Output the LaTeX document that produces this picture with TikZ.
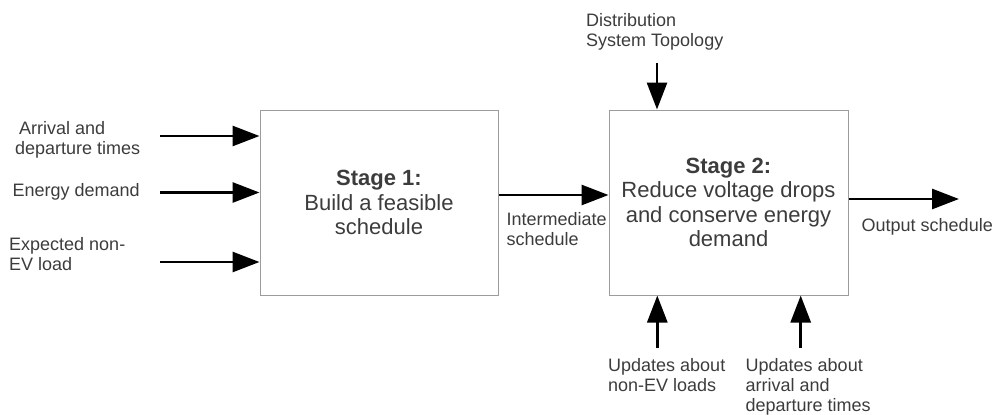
\documentclass[tikz,border=0pt]{standalone}
\usepackage{fontspec}
\setmainfont{Liberation Sans}
\usetikzlibrary{arrows.meta}
\definecolor{txt}{HTML}{3C3C3C}
\definecolor{frame}{HTML}{9C9C9C}
\begin{document}
\begin{tikzpicture}[x=1pt,y=-1pt,
  lbl/.style={font=\fontsize{18}{20}\selectfont, text=txt, align=left,
    inner sep=0pt, anchor=base west},
  stagebox/.style={draw=frame, line width=1pt, minimum height=185pt,
    inner sep=0pt, align=center, text=txt,
    font=\fontsize{22}{24.5}\selectfont},
  flow/.style={line width=2.8pt, -{Triangle[length=27pt,width=20pt]}}]
\useasboundingbox (0,0) rectangle (996,415);

% the two processing stages
\node[stagebox, minimum width=238pt] (s1) at (379,202.5)
  {\textbf{Stage 1:}\\Build a feasible\\schedule};
\node[stagebox, minimum width=239pt] (s2) at (728.5,202.5)
  {\textbf{Stage 2:}\\Reduce voltage drops\\and conserve energy\\demand};

% labels (base anchor sits on the last line)
\node[lbl] (arr) at (15,154) {\hspace*{4pt}Arrival and\\departure times};
\node[lbl] (en)  at (12.5,196) {Energy demand};
\node[lbl] (exp) at (9,270) {Expected non-\\EV load};
\node[lbl] (int) at (506.5,245.5) {Intermediate\\schedule};
\node[lbl] (dst) at (586,46) {Distribution\\System Topology};
\node[lbl] (upd1) at (608,391.5) {Updates about\\non-EV loads};
\node[lbl] (upd2) at (745.5,411.5) {Updates about\\arrival and\\departure times};
\node[lbl] (outl) at (861.5,231.7) {Output schedule};

% free ends of the arrows
\coordinate (in1) at (160,136);
\coordinate (in2) at (160,192.5);
\coordinate (in3) at (160,262);
\coordinate (mid) at (500,195);
\coordinate (top) at (657,62.5);
\coordinate (b1)  at (657.3,348);
\coordinate (b2)  at (800.7,348);
\coordinate (out) at (959,199);

% arrows
\draw[flow] (in1) -- (in1 -| s1.west);
\draw[flow] (in2) -- (in2 -| s1.west);
\draw[flow] (in3) -- (in3 -| s1.west);
\draw[flow] (mid -| s1.east) -- (mid -| s2.west);
\draw[flow] (top) -- (top |- s2.north);
\draw[flow] (b1) -- (b1 |- s2.south);
\draw[flow] (b2) -- (b2 |- s2.south);
\draw[flow] (out -| s2.east) -- (out);
\end{tikzpicture}
\end{document}
